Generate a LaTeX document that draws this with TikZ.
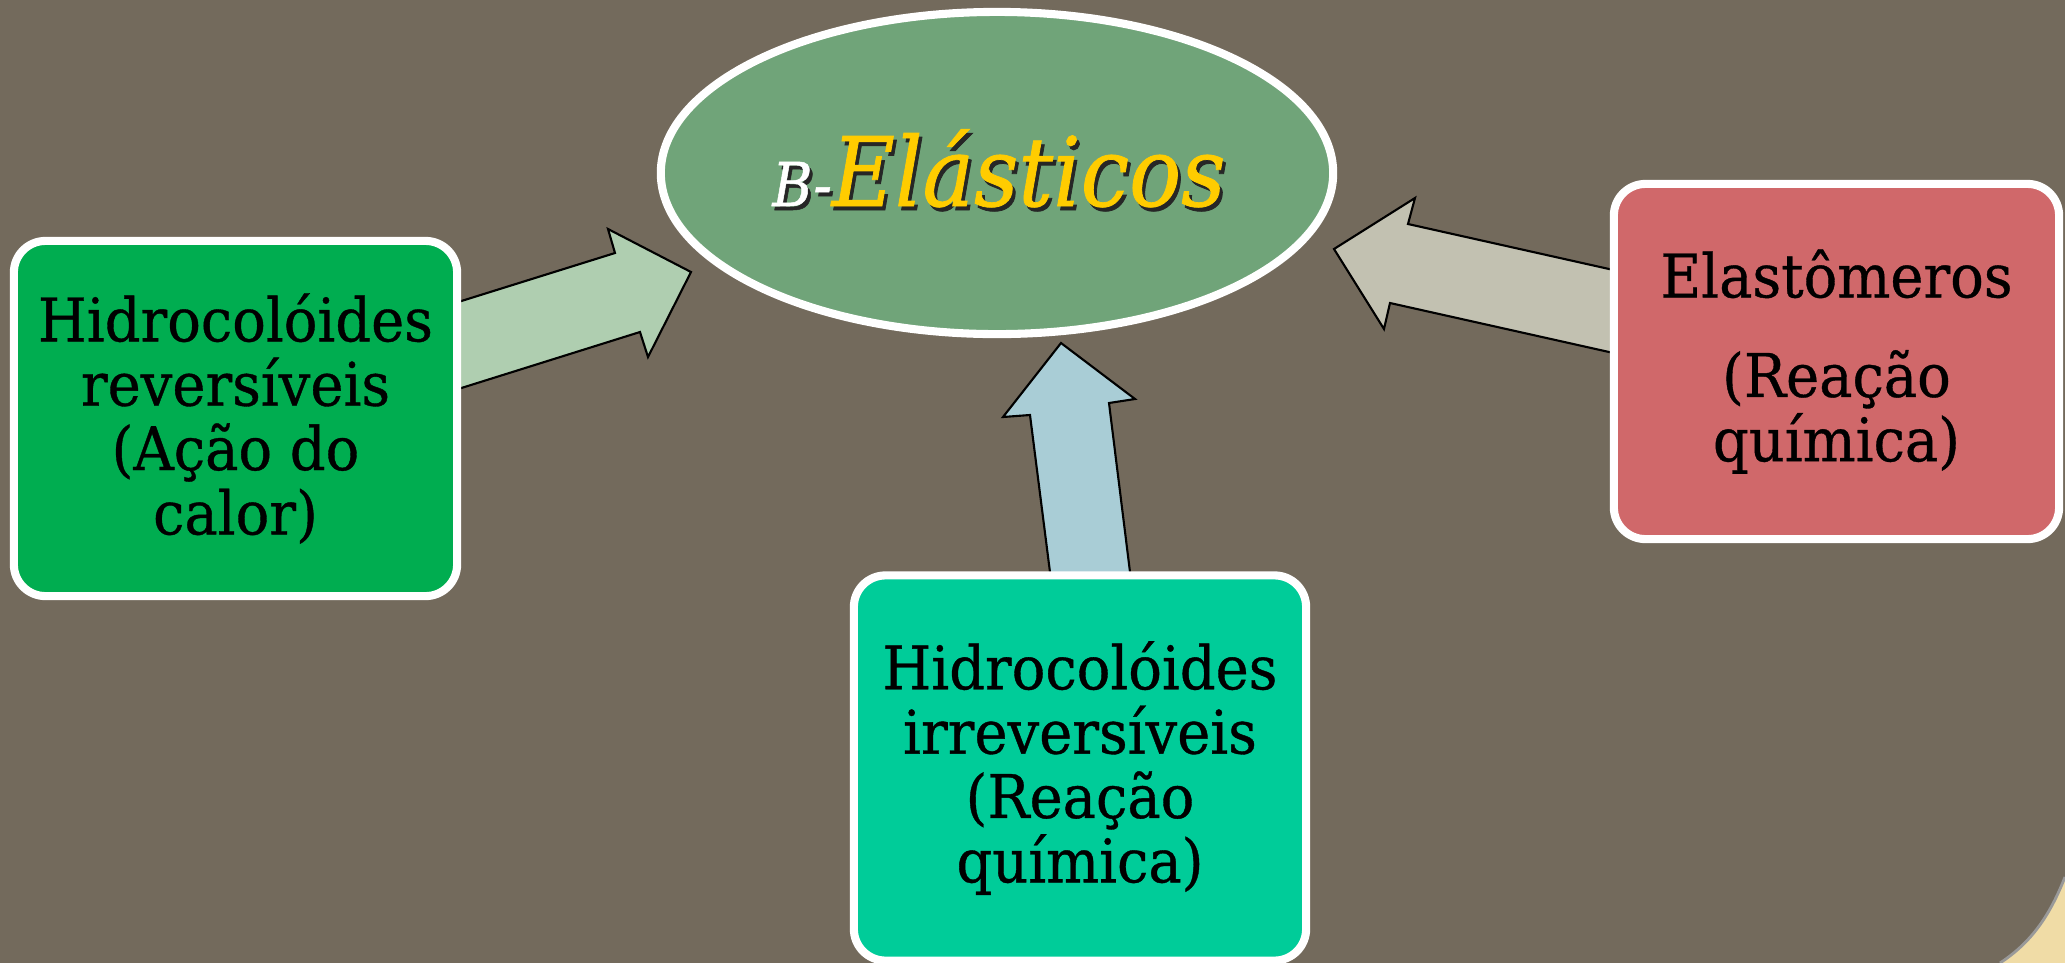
\documentclass[tikz,border=0pt]{standalone}
\usepackage{fontspec}
\setmainfont{DejaVu Serif}
\newfontfamily\boxfont{DejaVu Serif}[FakeStretch=0.93,FakeBold=0.6]
\newfontfamily\titlefont{DejaVu Serif}[FakeStretch=0.9,FakeBold=0.8]
\usetikzlibrary{shapes.geometric}
\definecolor{bgcol}{HTML}{736A5C}
\definecolor{beige}{HTML}{F0DCA6}
\definecolor{leftbox}{HTML}{00AD50}
\definecolor{bottombox}{HTML}{00CC99}
\definecolor{rightbox}{HTML}{D0686A}
\definecolor{ellcol}{HTML}{70A479}
\definecolor{titleyellow}{HTML}{FFCC00}
\definecolor{leftarrow}{HTML}{AFCEB0}
\definecolor{bottomarrow}{HTML}{A9CDD6}
\definecolor{rightarrow}{HTML}{C2C1B1}
\tikzset{
  panel/.style={draw=white, line width=2.3pt, rounded corners=9pt, inner sep=0pt,
    align=center, text=black, font=\boxfont\fontsize{17.1pt}{18.3pt}\selectfont},
  blockarrow/.style={draw=black, line width=0.6pt, line join=miter},
  titletext/.style={anchor=base, inner sep=0pt, font=\titlefont\itshape\fontsize{27.3pt}{30pt}\selectfont}
}
\begin{document}
\begin{tikzpicture}[x=0.01cm,y=-0.01cm]
\useasboundingbox (0,0) rectangle (2065,963);
% background
\fill[bgcol] (0,0) rectangle (2065,963);
\fill[beige] (2065,877) .. controls (2050,915) and (2032,942) .. (2000,963) -- (2065,963) -- cycle;
\draw[color=gray!80, line width=0.8pt] (2065,877) .. controls (2050,915) and (2032,942) .. (2000,963);
% arrow coordinates
\coordinate (la1) at (455,303);
\coordinate (la2) at (615,253);
\coordinate (la3) at (608,229);
\coordinate (la4) at (691,272);
\coordinate (la5) at (648,357);
\coordinate (la6) at (640,332);
\coordinate (la7) at (455,390);
\coordinate (ba1) at (1061,343);
\coordinate (ba2) at (1135,399);
\coordinate (ba3) at (1109,403);
\coordinate (ba4) at (1131,580);
\coordinate (ba5) at (1051,580);
\coordinate (ba6) at (1030,415);
\coordinate (ba7) at (1003,417);
\coordinate (ra1) at (1334,249);
\coordinate (ra2) at (1415,198);
\coordinate (ra3) at (1408,224);
\coordinate (ra4) at (1618,271);
\coordinate (ra5) at (1618,354);
\coordinate (ra6) at (1390,303);
\coordinate (ra7) at (1384,329);
\filldraw[blockarrow, fill=leftarrow] (la1) -- (la2) -- (la3) -- (la4) -- (la5) -- (la6) -- (la7) -- cycle;
\filldraw[blockarrow, fill=bottomarrow] (ba1) -- (ba2) -- (ba3) -- (ba4) -- (ba5) -- (ba6) -- (ba7) -- cycle;
\filldraw[blockarrow, fill=rightarrow] (ra1) -- (ra2) -- (ra3) -- (ra4) -- (ra5) -- (ra6) -- (ra7) -- cycle;
% ellipse
\node[ellipse, draw=white, line width=2.3pt, fill=ellcol, minimum width=6.72cm, minimum height=3.22cm, inner sep=0pt] (ell) at (997,173) {};
\node[titletext, text=black!85] (titleshadow) at (1002,210) {{\fontsize{17.2pt}{20pt}\selectfont B-}Elásticos};
\node[titletext] (title) at (999,206) {{\fontsize{17.2pt}{20pt}\selectfont\color{white}B-}{\color{titleyellow}Elásticos}};
% boxes
\node[panel, fill=leftbox, minimum width=4.43cm, minimum height=3.55cm] (left) at (235.5,418.5)
  {Hidrocolóides\\reversíveis\\(Ação do\\calor)};
\node[panel, fill=rightbox, minimum width=4.45cm, minimum height=3.55cm] (right) at (1836.5,361.5)
  {Elastômeros\\[10pt](Reação\\química)};
\node[panel, fill=bottombox, minimum width=4.52cm, minimum height=3.85cm] (bottom) at (1080,768)
  {Hidrocolóides\\irreversíveis\\(Reação\\química)};
\end{tikzpicture}
\end{document}
